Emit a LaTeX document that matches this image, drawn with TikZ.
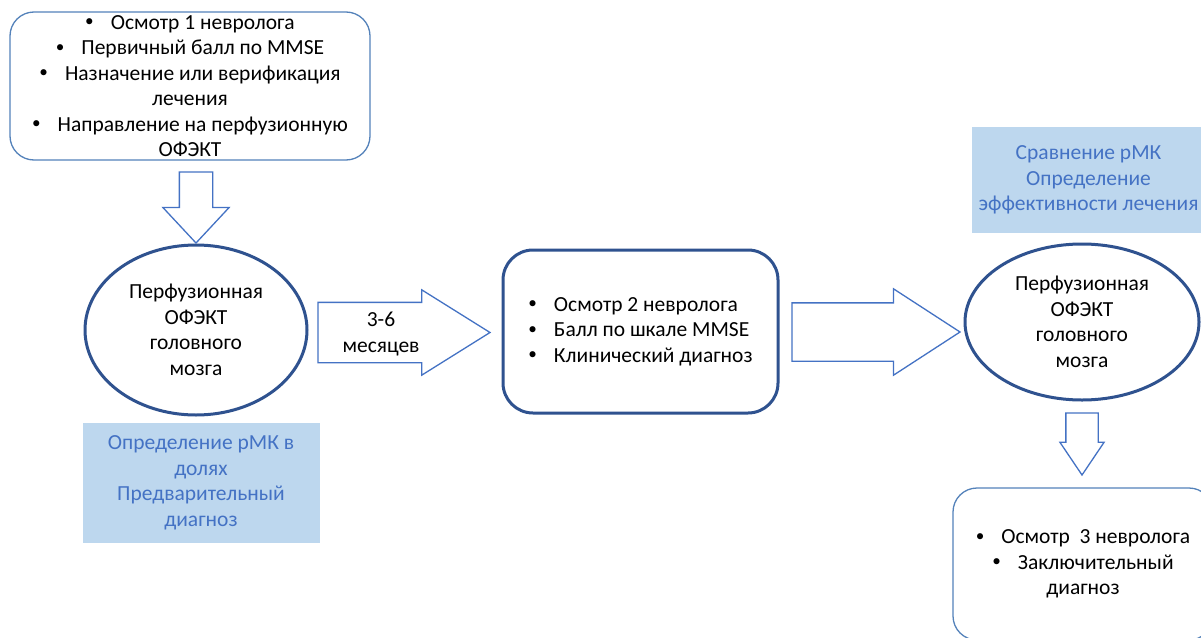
\documentclass[tikz,border=0pt]{standalone}
\usepackage{fontspec}
\setmainfont{Carlito}
\usetikzlibrary{positioning, shapes.geometric, shapes.arrows}
\definecolor{spect_dark}{RGB}{47, 82, 143}
\definecolor{spect_line}{RGB}{68, 114, 196}
\definecolor{spect_frame}{RGB}{84, 130, 186}
\definecolor{spect_fill}{RGB}{189, 215, 238}
\newcommand{\bul}{\raisebox{0.12em}{\scalebox{0.8}{\textbullet}}\hspace{17pt}}

\begin{document}
\begin{tikzpicture}[
        x=1pt, y=-1pt,
        every node/.style={font=\fontsize{21.5}{25.5}\selectfont, inner sep=0pt, outer sep=0pt},
        visit/.style={draw=spect_frame, line width=1.3pt, rounded corners=24pt, align=center},
        visitbold/.style={visit, draw=spect_dark, line width=3pt, rounded corners=30pt},
        scan/.style={ellipse, draw=spect_dark, line width=3pt, align=center},
        note/.style={fill=spect_fill, text=spect_line, align=center},
        blockarr/.style={single arrow, draw=spect_line, line width=1.3pt, anchor=tail, minimum width=0pt},
    ]
    \fill[white] (0,0) rectangle (1201,637);
    \useasboundingbox (0,0) rectangle (1201,637);
    \clip (0,0) rectangle (1201,637);

    \node[visit, minimum width=360pt, minimum height=148pt] (visit1) at (190,86)
        {\bul Осмотр 1 невролога\\ \bul Первичный балл по MMSE\\ \bul Назначение или верификация\\ лечения\\ \bul Направление на перфузионную\\ ОФЭКТ};
    \node[scan, minimum width=222pt, minimum height=170pt] (scan1) at (196,330)
        {Перфузионная\\ ОФЭКТ\\ головного\\ мозга};
    \node[note, minimum width=237pt, minimum height=120pt, below=8pt of scan1, xshift=5pt] (rmk1)
        {Определение рМК в\\ долях\\ Предварительный\\ диагноз};

    \node[visitbold, align=left, minimum width=275pt, minimum height=163pt] (visit2) at (640.5,331.5)
        {\bul Осмотр 2 невролога\\ \bul Балл по шкале MMSE\\ \bul Клинический диагноз};

    \node[scan, minimum width=234pt, minimum height=156pt] (scan2) at (1082,322)
        {Перфузионная\\ ОФЭКТ\\ головного\\ мозга};
    \node[note, minimum width=233pt, minimum height=106pt] (rmk2) at (1088.5,180)
        {Сравнение рМК\\ Определение\\ эффективности лечения};

    \node[visit, minimum width=260pt, minimum height=152pt] (visit3) at (1083,564)
        {\bul Осмотр~ 3 невролога\\ \bul Заключительный\\ диагноз};

    % блочные стрелки
    \node[blockarr, rotate=-90, minimum height=71pt, inner ysep=16pt, single arrow head extend=16.5pt, single arrow tip angle=86] (down1) at (196,172) {};
    \node[blockarr, minimum height=172pt, inner ysep=29.5pt, single arrow head extend=12.5pt, single arrow tip angle=64] (months) at (318,332.5) {};
    \node[align=center] (monthstxt) at (381,334) {3-6\\ месяцев};
    \node[blockarr, minimum height=168pt, inner ysep=28.5pt, single arrow head extend=14pt, single arrow tip angle=66] (right2) at (792,332) {};
    \node[blockarr, rotate=-90, minimum height=62pt, inner ysep=15.5pt, single arrow head extend=6pt, single arrow tip angle=68] (down2) at (1082,413) {};
\end{tikzpicture}
\end{document}
